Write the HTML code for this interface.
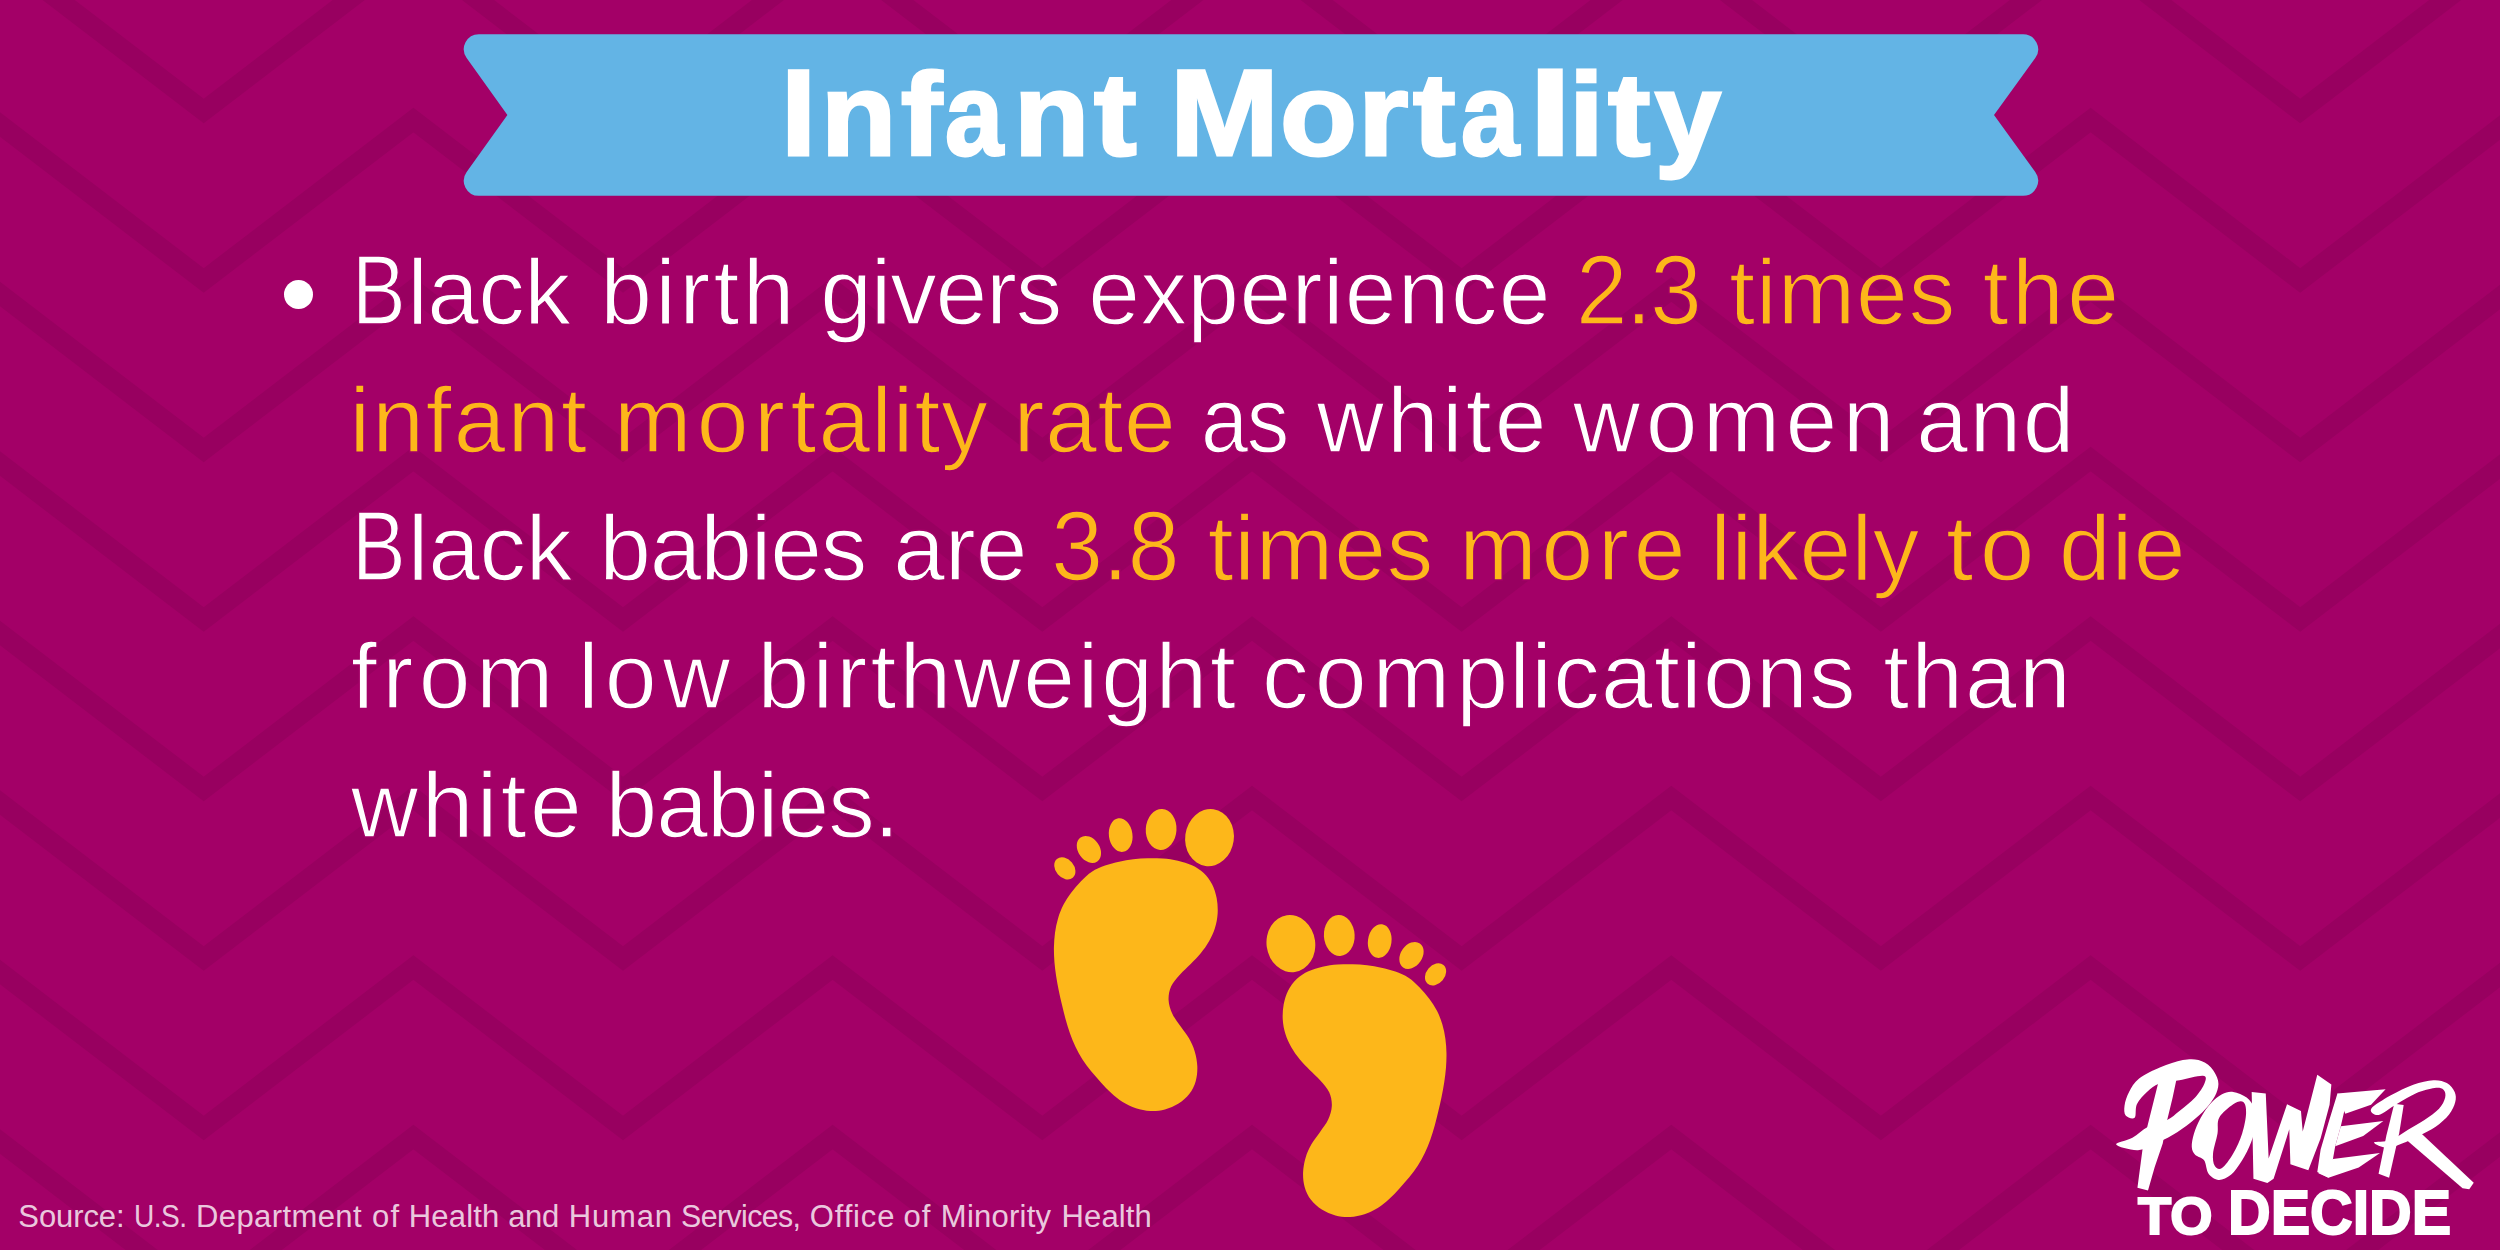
<!DOCTYPE html>
<html><head><meta charset="utf-8"><title>Infant Mortality</title>
<style>
html,body{margin:0;padding:0}
body{width:2500px;height:1250px;overflow:hidden;background:#A30067;position:relative;font-family:"Liberation Sans",sans-serif}
#bg{position:absolute;left:0;top:0}
.w{position:absolute;transform-origin:0 85.7px;-webkit-text-stroke:1.4px #A30067;white-space:nowrap;font-size:93px;line-height:normal}
.t{position:absolute;transform-origin:0 113.3px;white-space:nowrap;font-size:123px;font-weight:bold;color:#fff;line-height:normal;top:42.29px;-webkit-text-stroke:3px #fff}
#bullet{position:absolute;left:283.5px;top:280px;width:29px;height:29px;border-radius:50%;background:#fff}
#to{position:absolute;left:2138.2px;top:1185.7px;font-size:51.7px;-webkit-text-stroke:2px #fff;font-weight:bold;color:#fff;line-height:normal;transform-origin:0 0;transform:scaleX(1.05);white-space:nowrap}
#dec{position:absolute;left:2227.6px;top:1176px;font-size:62.8px;-webkit-text-stroke:2px #fff;font-weight:bold;color:#fff;line-height:normal;transform-origin:0 0;transform:scaleX(0.94);white-space:nowrap}
.s{position:absolute;transform-origin:0 0;white-space:nowrap;font-size:31px;line-height:normal;top:1199.24px;color:rgba(255,255,255,0.8)}
</style></head><body>
<svg id="bg" width="2500" height="1250" viewBox="0 0 2500 1250">
<g fill="none" stroke="#980060" stroke-width="19.5" stroke-linejoin="miter" stroke-miterlimit="10">
<polyline points="-215.6,-58.5 -6.0,-219.0 203.7,-58.5 413.4,-219.0 623.0,-58.5 832.6,-219.0 1042.3,-58.5 1252.0,-219.0 1461.6,-58.5 1671.3,-219.0 1880.9,-58.5 2090.6,-219.0 2300.2,-58.5 2509.8,-219.0 2719.5,-58.5 2929.2,-219.0"/>
<polyline points="-215.6,111.0 -6.0,-49.5 203.7,111.0 413.4,-49.5 623.0,111.0 832.6,-49.5 1042.3,111.0 1252.0,-49.5 1461.6,111.0 1671.3,-49.5 1880.9,111.0 2090.6,-49.5 2300.2,111.0 2509.8,-49.5 2719.5,111.0 2929.2,-49.5"/>
<polyline points="-215.6,280.5 -6.0,120.0 203.7,280.5 413.4,120.0 623.0,280.5 832.6,120.0 1042.3,280.5 1252.0,120.0 1461.6,280.5 1671.3,120.0 1880.9,280.5 2090.6,120.0 2300.2,280.5 2509.8,120.0 2719.5,280.5 2929.2,120.0"/>
<polyline points="-215.6,450.0 -6.0,289.5 203.7,450.0 413.4,289.5 623.0,450.0 832.6,289.5 1042.3,450.0 1252.0,289.5 1461.6,450.0 1671.3,289.5 1880.9,450.0 2090.6,289.5 2300.2,450.0 2509.8,289.5 2719.5,450.0 2929.2,289.5"/>
<polyline points="-215.6,619.5 -6.0,459.0 203.7,619.5 413.4,459.0 623.0,619.5 832.6,459.0 1042.3,619.5 1252.0,459.0 1461.6,619.5 1671.3,459.0 1880.9,619.5 2090.6,459.0 2300.2,619.5 2509.8,459.0 2719.5,619.5 2929.2,459.0"/>
<polyline points="-215.6,789.0 -6.0,628.5 203.7,789.0 413.4,628.5 623.0,789.0 832.6,628.5 1042.3,789.0 1252.0,628.5 1461.6,789.0 1671.3,628.5 1880.9,789.0 2090.6,628.5 2300.2,789.0 2509.8,628.5 2719.5,789.0 2929.2,628.5"/>
<polyline points="-215.6,958.5 -6.0,798.0 203.7,958.5 413.4,798.0 623.0,958.5 832.6,798.0 1042.3,958.5 1252.0,798.0 1461.6,958.5 1671.3,798.0 1880.9,958.5 2090.6,798.0 2300.2,958.5 2509.8,798.0 2719.5,958.5 2929.2,798.0"/>
<polyline points="-215.6,1128.0 -6.0,967.5 203.7,1128.0 413.4,967.5 623.0,1128.0 832.6,967.5 1042.3,1128.0 1252.0,967.5 1461.6,1128.0 1671.3,967.5 1880.9,1128.0 2090.6,967.5 2300.2,1128.0 2509.8,967.5 2719.5,1128.0 2929.2,967.5"/>
<polyline points="-215.6,1297.5 -6.0,1137.0 203.7,1297.5 413.4,1137.0 623.0,1297.5 832.6,1137.0 1042.3,1297.5 1252.0,1137.0 1461.6,1297.5 1671.3,1137.0 1880.9,1297.5 2090.6,1137.0 2300.2,1297.5 2509.8,1137.0 2719.5,1297.5 2929.2,1137.0"/>
</g>
<path d="M466.64,57.92A15,15 0 0 1 478.84,34.20L2023.12,34.20A15,15 0 0 1 2035.27,58.00L1994.00,115.00L2035.27,172.00A15,15 0 0 1 2023.12,195.80L478.84,195.80A15,15 0 0 1 466.64,172.08L507.40,115.00Z" fill="#63B4E5"/>
<g fill="#FDB71A">
<g transform="translate(1040 800) scale(0.25608)"><path d="M160.1,317.5C173.4,303.9 186.9,290.2 202.6,280.0C218.3,269.7 236.3,262.5 254.1,256.0C271.8,249.5 290.6,245.0 309.0,240.9C327.4,236.8 345.7,233.6 364.4,231.3C383.1,229.1 401.9,227.7 421.1,227.3C440.3,226.9 460.0,227.3 479.6,228.9C499.2,230.6 519.5,232.9 538.5,237.2C557.5,241.6 576.5,247.0 593.3,255.0C610.1,262.9 626.2,272.5 639.3,284.9C652.4,297.2 663.5,312.6 672.0,329.1C680.4,345.7 686.4,365.1 690.0,384.1C693.6,403.2 694.8,424.0 693.7,443.4C692.5,462.7 688.8,482.2 683.2,500.3C677.7,518.4 669.5,535.7 660.3,552.0C651.0,568.4 639.7,583.9 627.7,598.6C615.8,613.4 602.0,626.7 588.5,640.5C575.0,654.3 559.7,666.8 547.0,681.3C534.3,695.8 519.8,710.7 512.3,727.3C504.8,743.8 501.3,762.7 502.1,780.6C502.8,798.6 509.0,817.8 516.7,834.9C524.5,852.0 537.8,867.4 548.7,883.4C559.5,899.3 572.5,914.2 581.8,930.8C591.1,947.4 599.1,964.6 604.5,982.7C609.9,1000.9 613.6,1020.8 614.3,1039.8C614.9,1058.9 613.4,1079.1 608.3,1097.1C603.2,1115.0 594.8,1132.7 583.6,1147.4C572.4,1162.2 557.0,1175.4 541.1,1185.5C525.1,1195.7 506.2,1203.8 487.9,1208.5C469.5,1213.3 449.7,1214.9 430.8,1214.1C411.9,1213.2 392.6,1209.3 374.6,1203.5C356.6,1197.6 338.9,1189.0 322.8,1179.1C306.7,1169.2 292.3,1156.6 278.1,1143.9C264.0,1131.2 251.0,1116.8 238.0,1102.7C224.9,1088.6 211.8,1074.3 199.8,1059.4C187.8,1044.5 176.1,1029.3 165.9,1013.4C155.7,997.5 146.7,981.0 138.5,964.0C130.4,947.0 123.6,929.3 117.2,911.5C110.8,893.6 105.4,875.2 100.2,856.8C95.0,838.4 90.5,819.6 86.0,801.0C81.6,782.3 77.2,763.5 73.4,744.7C69.6,726.0 65.9,707.2 63.1,688.3C60.2,669.5 57.8,650.6 56.3,631.7C54.9,612.8 54.0,593.9 54.4,575.0C54.8,556.1 56.0,537.0 58.6,518.2C61.3,499.4 65.0,480.4 70.4,462.3C75.9,444.2 82.8,426.3 91.5,409.5C100.1,392.6 111.0,376.5 122.4,361.2C133.8,345.9 146.7,331.0 160.1,317.5Z"/><ellipse cx="662" cy="147" rx="95" ry="112" transform="rotate(8 662 147)"/><ellipse cx="473" cy="115" rx="60" ry="80" transform="rotate(3 473 115)"/><ellipse cx="315" cy="137" rx="46" ry="66" transform="rotate(-8 315 137)"/><ellipse cx="191" cy="193" rx="42" ry="57" transform="rotate(-35 191 193)"/><ellipse cx="97" cy="267" rx="36" ry="48" transform="rotate(-40 97 267)"/></g>
<g transform="translate(1460.4 906) scale(-0.25608 0.25608)"><path d="M160.1,317.5C173.4,303.9 186.9,290.2 202.6,280.0C218.3,269.7 236.3,262.5 254.1,256.0C271.8,249.5 290.6,245.0 309.0,240.9C327.4,236.8 345.7,233.6 364.4,231.3C383.1,229.1 401.9,227.7 421.1,227.3C440.3,226.9 460.0,227.3 479.6,228.9C499.2,230.6 519.5,232.9 538.5,237.2C557.5,241.6 576.5,247.0 593.3,255.0C610.1,262.9 626.2,272.5 639.3,284.9C652.4,297.2 663.5,312.6 672.0,329.1C680.4,345.7 686.4,365.1 690.0,384.1C693.6,403.2 694.8,424.0 693.7,443.4C692.5,462.7 688.8,482.2 683.2,500.3C677.7,518.4 669.5,535.7 660.3,552.0C651.0,568.4 639.7,583.9 627.7,598.6C615.8,613.4 602.0,626.7 588.5,640.5C575.0,654.3 559.7,666.8 547.0,681.3C534.3,695.8 519.8,710.7 512.3,727.3C504.8,743.8 501.3,762.7 502.1,780.6C502.8,798.6 509.0,817.8 516.7,834.9C524.5,852.0 537.8,867.4 548.7,883.4C559.5,899.3 572.5,914.2 581.8,930.8C591.1,947.4 599.1,964.6 604.5,982.7C609.9,1000.9 613.6,1020.8 614.3,1039.8C614.9,1058.9 613.4,1079.1 608.3,1097.1C603.2,1115.0 594.8,1132.7 583.6,1147.4C572.4,1162.2 557.0,1175.4 541.1,1185.5C525.1,1195.7 506.2,1203.8 487.9,1208.5C469.5,1213.3 449.7,1214.9 430.8,1214.1C411.9,1213.2 392.6,1209.3 374.6,1203.5C356.6,1197.6 338.9,1189.0 322.8,1179.1C306.7,1169.2 292.3,1156.6 278.1,1143.9C264.0,1131.2 251.0,1116.8 238.0,1102.7C224.9,1088.6 211.8,1074.3 199.8,1059.4C187.8,1044.5 176.1,1029.3 165.9,1013.4C155.7,997.5 146.7,981.0 138.5,964.0C130.4,947.0 123.6,929.3 117.2,911.5C110.8,893.6 105.4,875.2 100.2,856.8C95.0,838.4 90.5,819.6 86.0,801.0C81.6,782.3 77.2,763.5 73.4,744.7C69.6,726.0 65.9,707.2 63.1,688.3C60.2,669.5 57.8,650.6 56.3,631.7C54.9,612.8 54.0,593.9 54.4,575.0C54.8,556.1 56.0,537.0 58.6,518.2C61.3,499.4 65.0,480.4 70.4,462.3C75.9,444.2 82.8,426.3 91.5,409.5C100.1,392.6 111.0,376.5 122.4,361.2C133.8,345.9 146.7,331.0 160.1,317.5Z"/><ellipse cx="662" cy="147" rx="95" ry="112" transform="rotate(8 662 147)"/><ellipse cx="473" cy="115" rx="60" ry="80" transform="rotate(3 473 115)"/><ellipse cx="315" cy="137" rx="46" ry="66" transform="rotate(-8 315 137)"/><ellipse cx="191" cy="193" rx="42" ry="57" transform="rotate(-35 191 193)"/><ellipse cx="97" cy="267" rx="36" ry="48" transform="rotate(-40 97 267)"/></g>
</g>
<g transform="translate(2100 1050) scale(0.16)" fill="#fff" stroke="none"><path d="M160.5,409.2C150.0,396.4 150.0,370.8 153.5,346.2C157.0,321.8 166.3,290.2 181.5,262.2C196.7,234.2 211.8,203.9 244.5,178.2C277.2,152.6 332.0,127.5 377.5,108.2C423.0,89.0 477.8,70.3 517.5,62.8C557.2,55.2 586.3,55.2 615.5,62.8C644.7,70.3 672.1,86.7 692.5,108.2C712.9,129.8 732.2,165.4 738.0,192.2C743.8,219.1 737.4,243.6 727.5,269.2C717.6,294.9 700.7,319.4 678.5,346.2C656.3,373.1 627.2,402.2 594.5,430.2C561.8,458.2 521.0,489.8 482.5,514.2C444.0,538.8 404.3,558.6 363.5,577.2C322.7,595.9 281.2,623.9 237.5,626.2C193.8,628.6 106.8,604.1 101.0,591.2C95.2,578.4 169.2,567.9 202.5,549.2C235.8,530.6 264.3,497.9 300.5,479.2C336.7,460.6 386.8,453.6 419.5,437.2C452.2,420.9 467.3,404.6 496.5,381.2C525.7,357.9 568.2,326.4 594.5,297.2C620.8,268.1 645.8,229.0 654.0,206.2C662.2,183.5 669.8,163.7 643.5,160.8C617.2,157.8 542.0,180.6 496.5,188.8C451.0,196.9 404.3,197.5 370.5,209.8C336.7,222.0 316.8,240.7 293.5,262.2C270.2,283.8 243.3,312.4 230.5,339.2C217.7,366.1 228.2,411.6 216.5,423.2C204.8,434.9 171.0,422.1 160.5,409.2Z"/><path d="M370,182 L482,164 L454,297 L420,437 L392,584 L342,731 L300,878 L234,861 L266,619 L294,486Z"/><path fill-rule="evenodd" d="M832.5,262.2C858.2,265.8 894.3,279.8 916.5,297.2C938.7,314.8 956.2,339.2 965.5,367.2C974.8,395.2 976.0,430.2 972.5,465.2C969.0,500.2 958.5,539.9 944.5,577.2C930.5,614.6 909.5,655.4 888.5,689.2C867.5,723.1 843.0,759.8 818.5,780.2C794.0,800.7 764.8,812.9 741.5,811.8C718.2,810.6 693.7,793.7 678.5,773.2C663.3,752.8 664.5,709.1 650.5,689.2C636.5,669.4 607.3,668.2 594.5,654.2C581.7,640.2 574.7,627.4 573.5,605.2C572.3,583.1 578.2,551.6 587.5,521.2C596.8,490.9 612.0,454.8 629.5,423.2C647.0,391.8 670.3,356.8 692.5,332.2C714.7,307.8 739.2,287.9 762.5,276.2C785.8,264.6 806.8,258.8 832.5,262.2Z M745.0,423.2C761.3,392.9 807.4,355.6 832.5,339.2C857.6,322.9 882.1,315.9 895.5,325.2C908.9,334.6 914.2,362.6 913.0,395.2C911.8,427.9 901.9,479.2 888.5,521.2C875.1,563.2 853.5,611.1 832.5,647.2C811.5,683.4 781.8,725.4 762.5,738.2C743.2,751.1 726.3,739.4 717.0,724.2C707.7,709.1 703.6,681.1 706.5,647.2C709.4,613.4 728.1,558.6 734.5,521.2C740.9,483.9 728.7,453.6 745.0,423.2Z"/><path d="M948,262 L1036,272 L1054,678 L1169,339 L1256,381 L1267,510 L1358,154 L1446,216 L1435,342 L1379,552 L1302,752 L1190,714 L1183,496 L1085,804 L1046,832 L959,804Z"/><path d="M1484,272 L1547,294 L1505,476 L1470,602 L1456,682 L1428,798 L1358,762 L1379,622 L1428,454Z"/><path d="M1484,272 L1785,246 L1694,342 L1533,398Z"/><path d="M1505,476 L1771,444 L1645,538 L1470,602Z"/><path d="M1456,682 L1750,644 L1617,734 L1428,798 L1365,770Z"/><path d="M1839,336 L1898,343 L1870,521 L1807,798 L1741,773 L1790,535Z"/><path d="M1695.1,367.3C1708.0,346.9 1773.9,308.4 1817.7,283.3C1861.4,258.2 1913.4,232.6 1957.7,216.8C2002.1,201.0 2048.7,190.5 2083.8,188.8C2118.8,187.0 2145.6,194.0 2167.8,206.3C2190.0,218.6 2208.0,242.5 2216.8,262.3C2225.5,282.2 2226.1,302.0 2220.3,325.3C2214.5,348.7 2202.2,376.7 2181.8,402.4C2161.4,428.0 2129.3,457.2 2097.8,479.4C2066.3,501.6 2027.7,517.9 1992.7,535.4C1957.7,552.9 1920.4,571.6 1887.7,584.4C1855.0,597.2 1825.8,613.6 1796.7,612.4C1767.5,611.2 1709.1,585.6 1712.7,577.4C1716.2,569.2 1782.7,576.2 1817.7,563.4C1852.7,550.6 1887.7,521.4 1922.7,500.4C1957.7,479.4 1995.1,459.5 2027.7,437.4C2060.4,415.2 2097.2,390.7 2118.8,367.3C2140.4,344.0 2152.6,317.2 2157.3,297.3C2161.9,277.5 2157.9,258.2 2146.8,248.3C2135.7,238.4 2118.8,234.3 2090.8,237.8C2062.8,241.3 2018.4,252.4 1978.7,269.3C1939.0,286.2 1892.4,316.6 1852.7,339.3C1813.0,362.1 1766.9,401.2 1740.7,405.9C1714.4,410.5 1682.3,387.8 1695.1,367.3Z"/><path d="M1916,563 L2000,514 L2336,829 L2308,871 L2266,864Z"/></g>
</svg>
<div id="title"><span class="t" style="left:781.21px;transform:scale(1.0286,1)">I</span><span class="t" style="left:820.79px;transform:scale(1.0016,0.95)">n</span><span class="t" style="left:900.50px;transform:scale(1.0047,0.95)">f</span><span class="t" style="left:945.33px;transform:scale(0.8500,0.95)">a</span><span class="t" style="left:1013.69px;transform:scale(1.0016,0.95)">n</span><span class="t" style="left:1093.62px;transform:scale(1.0405,0.95)">t</span><span class="t" style="left:1169.69px;transform:scale(1.0633,1)">M</span><span class="t" style="left:1279.74px;transform:scale(1.0243,0.95)">o</span><span class="t" style="left:1357.75px;transform:scale(1.0537,0.95)">r</span><span class="t" style="left:1412.72px;transform:scale(1.0405,0.95)">t</span><span class="t" style="left:1461.27px;transform:scale(0.8500,0.95)">a</span><span class="t" style="left:1528.70px;transform:scale(1.2500,0.95)">l</span><span class="t" style="left:1568.88px;transform:scale(1.0190,0.95)">i</span><span class="t" style="left:1608.02px;transform:scale(1.0357,0.95)">t</span><span class="t" style="left:1655.05px;transform:scale(0.9634,0.95)">y</span></div>
<div id="bullet"></div>
<div id="body"><span class="w" style="left:351.64px;top:238.53px;letter-spacing:0.000px;color:#ffffff;transform:scale(0.8649,1.05)">B</span><span class="w" style="left:407.30px;top:238.53px;letter-spacing:-0.661px;color:#ffffff">lack</span><span class="w" style="left:600.30px;top:238.53px;letter-spacing:3.302px;color:#ffffff">birth</span><span class="w" style="left:820.30px;top:238.53px;letter-spacing:-1.235px;color:#ffffff">givers</span><span class="w" style="left:1088.30px;top:238.53px;letter-spacing:0.383px;color:#ffffff">exper</span><span class="w" style="left:1322.90px;top:238.53px;letter-spacing:1.299px;color:#ffffff">ience</span><span class="w" style="left:1576.33px;top:238.53px;letter-spacing:-1.500px;color:#FDB71A;transform:scale(0.9944,1.05)">2.3</span><span class="w" style="left:1729.30px;top:238.53px;letter-spacing:0.927px;color:#FDB71A">times</span><span class="w" style="left:1982.80px;top:238.53px;letter-spacing:3.420px;color:#FDB71A">the</span><span class="w" style="left:349.50px;top:366.78px;letter-spacing:1.987px;color:#FDB71A">infant</span><span class="w" style="left:613.90px;top:366.78px;letter-spacing:5.513px;color:#FDB71A">mort</span><span class="w" style="left:818.50px;top:366.78px;letter-spacing:0.954px;color:#FDB71A">ality</span><span class="w" style="left:1013.50px;top:366.78px;letter-spacing:0.690px;color:#FDB71A">rate</span><span class="w" style="left:1200.62px;top:366.78px;letter-spacing:-1.500px;color:#ffffff;transform:scale(0.9129,1)">as</span><span class="w" style="left:1316.70px;top:366.78px;letter-spacing:3.154px;color:#ffffff">white</span><span class="w" style="left:1573.10px;top:366.78px;letter-spacing:5.381px;color:#ffffff">women</span><span class="w" style="left:1916.30px;top:366.78px;letter-spacing:1.478px;color:#ffffff">and</span><span class="w" style="left:352.14px;top:495.03px;letter-spacing:0.000px;color:#ffffff;transform:scale(0.8649,1.05)">B</span><span class="w" style="left:407.80px;top:495.03px;letter-spacing:-0.328px;color:#ffffff">lack</span><span class="w" style="left:599.30px;top:495.03px;letter-spacing:-1.230px;color:#ffffff">babies</span><span class="w" style="left:893.30px;top:495.03px;letter-spacing:-0.146px;color:#ffffff">are</span><span class="w" style="left:1051.30px;top:495.03px;letter-spacing:-0.580px;color:#FDB71A;transform:scale(1.0000,1.05)">3.8</span><span class="w" style="left:1207.70px;top:495.03px;letter-spacing:0.827px;color:#FDB71A">times</span><span class="w" style="left:1459.30px;top:495.03px;letter-spacing:4.746px;color:#FDB71A">more</span><span class="w" style="left:1710.30px;top:495.03px;letter-spacing:0.439px;color:#FDB71A">likely</span><span class="w" style="left:1946.20px;top:495.03px;letter-spacing:6.000px;color:#FDB71A;transform:scale(1.0589,1)">to</span><span class="w" style="left:2058.90px;top:495.03px;letter-spacing:1.208px;color:#FDB71A">die</span><span class="w" style="left:350.90px;top:623.29px;letter-spacing:5.490px;color:#ffffff">from</span><span class="w" style="left:578.27px;top:623.29px;letter-spacing:6.000px;color:#ffffff;transform:scale(1.0043,1)">low</span><span class="w" style="left:757.50px;top:623.29px;letter-spacing:3.202px;color:#ffffff">birth</span><span class="w" style="left:953.50px;top:623.29px;letter-spacing:2.702px;color:#ffffff">weight</span><span class="w" style="left:1262.09px;top:623.29px;letter-spacing:6.000px;color:#ffffff;transform:scale(1.0030,1)">comp</span><span class="w" style="left:1509.30px;top:623.29px;letter-spacing:1.264px;color:#ffffff">lications</span><span class="w" style="left:1883.30px;top:623.29px;letter-spacing:2.106px;color:#ffffff">than</span><span class="w" style="left:351.10px;top:751.54px;letter-spacing:3.404px;color:#ffffff">white</span><span class="w" style="left:605.50px;top:751.54px;letter-spacing:-0.975px;color:#ffffff">babies.</span></div>
<div id="to">TO</div><div id="dec">DECIDE</div>
<div id="src"><span class="s" style="left:18.30px;letter-spacing:-0.087px">Source:</span> <span class="s" style="left:133.79px;letter-spacing:-0.600px;transform:scaleX(0.9058)">U.S.</span> <span class="s" style="left:196.00px;letter-spacing:0.406px">Department</span> <span class="s" style="left:371.90px;letter-spacing:1.459px">of</span> <span class="s" style="left:408.80px;letter-spacing:0.166px">Health</span> <span class="s" style="left:508.20px;letter-spacing:-0.341px">and</span> <span class="s" style="left:568.80px;letter-spacing:0.827px">Human</span> <span class="s" style="left:680.52px;letter-spacing:-0.600px;transform:scaleX(0.9784)">Services,</span> <span class="s" style="left:809.80px;letter-spacing:0.847px">Office</span> <span class="s" style="left:903.40px;letter-spacing:1.159px">of</span> <span class="s" style="left:940.80px;letter-spacing:0.255px">Minority</span> <span class="s" style="left:1061.60px;letter-spacing:0.106px">Health</span> </div>
</body></html>
